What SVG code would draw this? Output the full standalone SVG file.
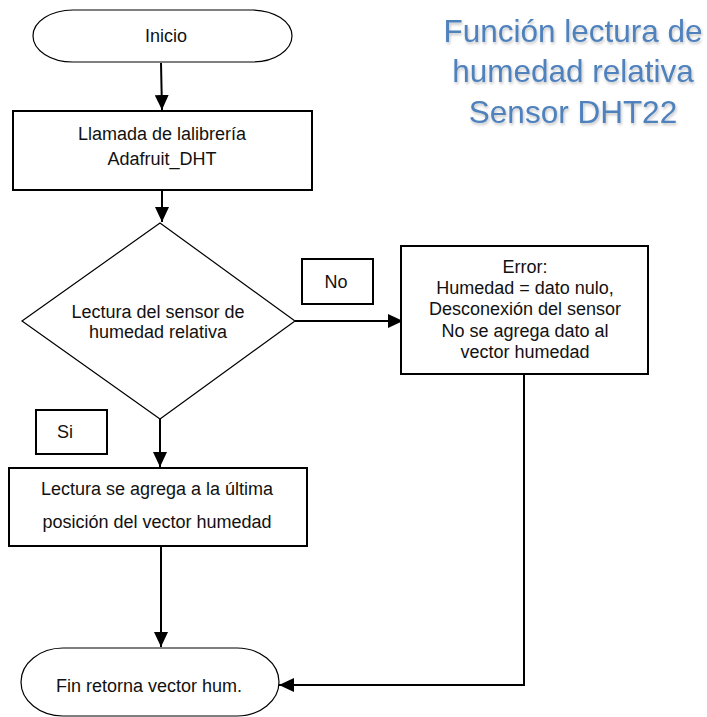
<svg xmlns="http://www.w3.org/2000/svg" width="707" height="717" viewBox="0 0 707 717">
<style>
  .t { font-family: "Liberation Sans", Arial, sans-serif; font-size: 18px; fill: #111; text-anchor: middle; }
  .title { font-family: "Liberation Sans", Arial, sans-serif; font-size: 31.5px; fill: #4F81BD; text-anchor: middle; }
  .box { fill: #fff; stroke: #000; stroke-width: 2; }
  .thin { fill: #fff; stroke: #000; stroke-width: 1.2; }
  .conn { fill: none; stroke: #000; stroke-width: 2; }
</style>
<defs>
  <marker id="arr" markerUnits="userSpaceOnUse" markerWidth="15" markerHeight="14" refX="15" refY="7" orient="auto">
    <path d="M0,0 L15,7 L0,14 z" fill="#000"/>
  </marker>
  <filter id="sh" x="-10%" y="-10%" width="120%" height="130%">
    <feGaussianBlur in="SourceAlpha" stdDeviation="1.5"/>
    <feOffset dx="1" dy="1.5" result="b"/>
    <feComponentTransfer><feFuncA type="linear" slope="0.25"/></feComponentTransfer>
    <feMerge><feMergeNode/><feMergeNode in="SourceGraphic"/></feMerge>
  </filter>
</defs>
<rect width="707" height="717" fill="#fff"/>

<g id="title" filter="url(#sh)">
  <text class="title" x="573" y="42">Función lectura de</text>
  <text class="title" x="573" y="82">humedad relativa</text>
  <text class="title" x="573" y="123">Sensor DHT22</text>
</g>

<g id="connectors">
  <line class="conn" x1="161" y1="63" x2="162" y2="110" marker-end="url(#arr)"/>
  <line class="conn" x1="162" y1="191" x2="162" y2="222" marker-end="url(#arr)"/>
  <line class="conn" x1="295" y1="321" x2="403" y2="321" marker-end="url(#arr)"/>
  <line class="conn" x1="160" y1="419" x2="160" y2="467" marker-end="url(#arr)"/>
  <line class="conn" x1="161" y1="546" x2="161" y2="647" marker-end="url(#arr)"/>
  <path class="conn" d="M524,374 L524,685 L279,685" marker-end="url(#arr)"/>
</g>

<g id="inicio">
  <rect class="thin" x="33" y="10" width="259" height="52" rx="40" ry="26"/>
  <text class="t" x="166" y="42">Inicio</text>
</g>

<g id="llamada">
  <rect class="box" x="13" y="111" width="299" height="79"/>
  <text class="t" x="162" y="140">Llamada de lalibrería</text>
  <text class="t" x="162" y="165">Adafruit_DHT</text>
</g>

<g id="decision">
  <polygon class="thin" points="160,223 295,321 160,419 22,321"/>
  <text class="t" x="158" y="318">Lectura del sensor de</text>
  <text class="t" x="158" y="338">humedad relativa</text>
</g>

<g id="label-no">
  <rect class="box" x="302" y="259" width="71" height="45"/>
  <text class="t" x="336" y="288">No</text>
</g>

<g id="error">
  <rect class="box" x="401" y="246" width="247" height="128"/>
  <text class="t" x="525" y="273">Error:</text>
  <text class="t" x="525" y="294">Humedad = dato nulo,</text>
  <text class="t" x="525" y="315">Desconexión del sensor</text>
  <text class="t" x="525" y="337">No se agrega dato al</text>
  <text class="t" x="525" y="358">vector humedad</text>
</g>

<g id="label-si">
  <rect class="box" x="36" y="410" width="71" height="44"/>
  <text class="t" x="65" y="438">Si</text>
</g>

<g id="agrega">
  <rect class="box" x="9" y="468" width="298" height="78"/>
  <text class="t" x="157" y="495">Lectura se agrega a la última</text>
  <text class="t" x="157" y="528">posición del vector humedad</text>
</g>

<g id="fin">
  <rect class="thin" x="21" y="648" width="258" height="68" rx="42" ry="34"/>
  <text class="t" x="149" y="692">Fin retorna vector hum.</text>
</g>
</svg>
